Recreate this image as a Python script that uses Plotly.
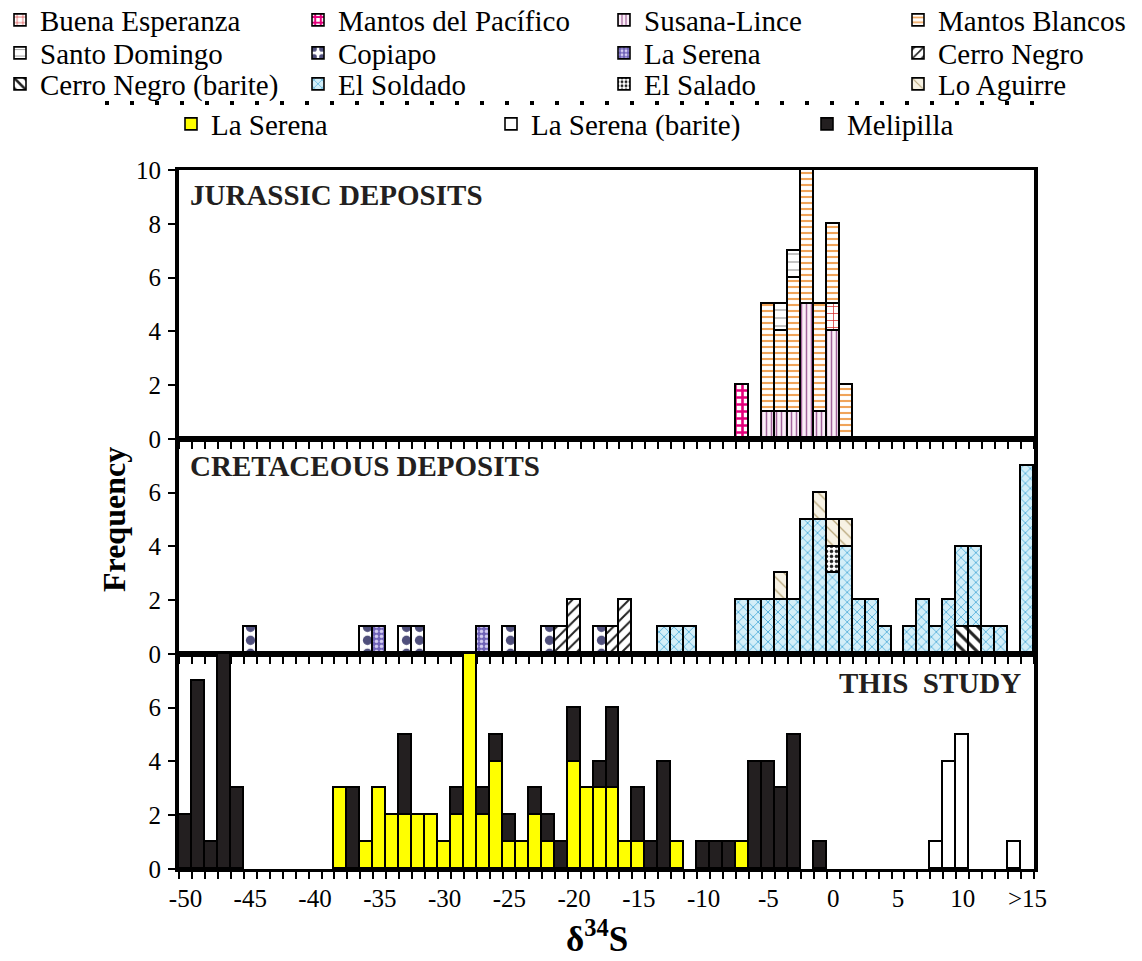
import plotly.graph_objects as go

# ---------------- data ----------------
bins = list(range(-50, 16))  # 1 per-mil classes; the last class is ">15"
tick_vals = [-50, -45, -40, -35, -30, -25, -20, -15, -10, -5, 0, 5, 10, 15]
tick_text = ["-50", "-45", "-40", "-35", "-30", "-25", "-20", "-15", "-10", "-5", "0", "5", "10", ">15"]

# Jurassic deposits
susana_lince_x = [-5, -4, -3, -2, -1, 0]
susana_lince_n = [1, 1, 1, 5, 1, 4]
buena_esperanza_x = [0]
buena_esperanza_n = [1]
mantos_blancos_x = [-5, -4, -3, -2, -1, 0, 1]
mantos_blancos_n = [4, 3, 5, 5, 4, 3, 2]
santo_domingo_x = [-4, -3]
santo_domingo_n = [1, 1]
mantos_pacifico_x = [-7]
mantos_pacifico_n = [2]

# Cretaceous deposits
cerro_negro_barite_x = [10, 11]
cerro_negro_barite_n = [1, 1]
el_soldado_x = [-13, -12, -11, -7, -6, -5, -4, -3, -2, -1, 0, 1, 2, 3, 4, 6, 7, 8, 9, 10, 11, 12, 13, 15]
el_soldado_n = [1, 1, 1, 2, 2, 2, 2, 2, 5, 5, 3, 4, 2, 2, 1, 1, 2, 1, 2, 3, 3, 1, 1, 7]
el_salado_x = [0]
el_salado_n = [1]
lo_aguirre_x = [-4, -1, 0, 1]
lo_aguirre_n = [1, 1, 1, 1]
copiapo_x = [-45, -36, -33, -32, -25, -22, -18]
copiapo_n = [1, 1, 1, 1, 1, 1, 1]
la_serena_cret_x = [-35, -27]
la_serena_cret_n = [1, 1]
cerro_negro_x = [-21, -20, -17, -16]
cerro_negro_n = [1, 2, 1, 2]

# This study
la_serena_x = [-38, -36, -35, -34, -33, -32, -31, -30, -29, -28, -27, -26, -25, -24,
               -23, -22, -20, -19, -18, -17, -16, -15, -12, -7]
la_serena_n = [3, 1, 3, 2, 2, 2, 2, 1, 2, 8, 2, 4, 1, 1, 2, 1, 4, 3, 3, 3, 1, 1, 1, 1]
melipilla_x = [-50, -49, -48, -47, -46, -37, -33, -29, -27, -26, -25, -23, -22, -21,
               -20, -18, -17, -15, -14, -13, -10, -9, -8, -6, -5, -4, -3, -1]
melipilla_n = [2, 7, 1, 8, 3, 3, 3, 1, 1, 1, 1, 1, 1, 1, 2, 1, 3, 2, 1, 4, 1, 1, 1, 4, 4, 3, 5, 1]
la_serena_barite_x = [8, 9, 10, 14]
la_serena_barite_n = [1, 4, 5, 1]

# ---------------- layout geometry ----------------
OFF = 8                       # default page margin around the figure
W, H = 1142 - 2 * OFF, 961 - 2 * OFF
# plot area in page pixels
PL, PR, PT, PB = 179, 1034, 170, 869
SERIF = "Liberation Serif"


def pxx(p):   # page px -> paper x
    return (p - PL) / (PR - PL)


def pxy(p):   # page px -> paper y
    return (PB - p) / (PB - PT)


# name, x, n, panel(1/2/3), style, legend text start / row centre (page px)
series = [
    # Jurassic (stack order bottom -> top)
    ("Susana-Lince", susana_lince_x, susana_lince_n, 1,
     dict(shape="|", fg="#a2649c", bg="#fbeef7", size=5, sol=0.3), (644, 20)),
    ("Buena Esperanza", buena_esperanza_x, buena_esperanza_n, 1,
     dict(shape="+", fg="#d42a2a", bg="#ffffff", size=7, sol=0.2), (40, 20)),
    ("Mantos Blancos", mantos_blancos_x, mantos_blancos_n, 1,
     dict(shape="-", fg="#f0a45a", bg="#ffffff", size=6, sol=0.35), (938, 20)),
    ("Santo Domingo", santo_domingo_x, santo_domingo_n, 1,
     dict(shape="-", fg="#9a9a9a", bg="#ffffff", size=8, sol=0.15), (40, 53)),
    ("Mantos del Pacífico", mantos_pacifico_x, mantos_pacifico_n, 1,
     dict(shape="+", fg="#e4007c", bg="#ffffff", size=7, sol=0.6), (338, 20)),
    # Cretaceous
    ("Cerro Negro (barite)", cerro_negro_barite_x, cerro_negro_barite_n, 2,
     dict(shape="\\", fg="#222222", bg="#ffffff", size=9, sol=0.35), (40, 84)),
    ("El Soldado", el_soldado_x, el_soldado_n, 2,
     dict(shape="x", fg="#3aa3d6", bg="#d3eef8", size=7, sol=0.2), (338, 84)),
    ("El Salado", el_salado_x, el_salado_n, 2,
     dict(shape=".", fg="#222222", bg="#ffffff", size=5, sol=0.4), (644, 84)),
    ("Lo Aguirre", lo_aguirre_x, lo_aguirre_n, 2,
     dict(shape="\\", fg="#b9a77c", bg="#f7f2e4", size=9, sol=0.15), (938, 84)),
    ("Copiapo", copiapo_x, copiapo_n, 2,
     dict(shape=".", fg="#4f4f7c", bg="#ffffff", size=13, sol=0.4), (338, 53)),
    ("La Serena", la_serena_cret_x, la_serena_cret_n, 2,
     dict(shape=".", fg="#d4cdf2", bg="#6f62b8", size=5, sol=0.4), (644, 53)),
    ("Cerro Negro", cerro_negro_x, cerro_negro_n, 2,
     dict(shape="/", fg="#222222", bg="#ffffff", size=8, sol=0.25), (938, 53)),
    # This study
    ("La Serena", la_serena_x, la_serena_n, 3,
     dict(shape="", fg="#ffff00", bg="#ffff00", size=8, sol=0.3), (211, 124)),
    ("Melipilla", melipilla_x, melipilla_n, 3,
     dict(shape="", fg="#231f20", bg="#231f20", size=8, sol=0.3), (847, 124)),
    ("La Serena (barite)", la_serena_barite_x, la_serena_barite_n, 3,
     dict(shape="", fg="#ffffff", bg="#ffffff", size=8, sol=0.3), (531, 124)),
]

fig = go.Figure()
legends = {}
for i, (name, xs, ns, panel, st, (tx, cy)) in enumerate(series):
    lid = "legend" if i == 0 else "legend%d" % (i + 1)
    suffix = "" if panel == 1 else str(panel)
    marker = dict(color=st["bg"], line=dict(color="black", width=1.6))
    if st["shape"]:
        marker["pattern"] = dict(shape=st["shape"], fgcolor=st["fg"], bgcolor=st["bg"],
                                 size=st["size"], solidity=st["sol"], fillmode="replace")
    fig.add_trace(go.Bar(
        x=xs, y=ns, name=name, width=1, marker=marker,
        xaxis="x" + suffix, yaxis="y" + suffix,
        legend=lid, showlegend=True, hoverinfo="x+y+name",
    ))
    # legend text starts 40 px after the legend's left edge
    lx = tx - 40 - OFF
    indent = 0
    if lx < 0:
        indent = max(lx, -15)
        lx = 0
    legends[lid] = dict(
        xref="container", yref="container",
        x=lx / W, y=1 - (cy - OFF) / H, xanchor="left", yanchor="middle",
        indentation=indent,
        bgcolor="rgba(0,0,0,0)", borderwidth=0,
        font=dict(family=SERIF, size=29, color="black"),
        itemclick=False, itemdoubleclick=False,
    )

minor_edges = [b - 0.5 for b in bins] + [bins[-1] + 0.5]


def xaxis_def(anchor, show_labels):
    return dict(
        range=[bins[0] - 0.5, bins[-1] + 0.5], anchor=anchor, domain=[0, 1],
        showline=True, linewidth=3, linecolor="black", mirror=True,
        showgrid=False, zeroline=False,
        tickmode="array", tickvals=tick_vals, ticktext=tick_text, ticks="",
        showticklabels=show_labels, ticklabelstandoff=5,
        tickfont=dict(family=SERIF, size=25, color="black"),
        minor=dict(tickmode="array", tickvals=minor_edges, ticks="outside",
                   ticklen=7, tickwidth=2, tickcolor="black", showgrid=False),
        fixedrange=True,
    )


def yaxis_def(anchor, dom, top, vals):
    return dict(
        domain=dom, range=[0, top], anchor=anchor,
        tickmode="array", tickvals=vals, ticktext=[str(v) for v in vals],
        showline=True, linewidth=4, linecolor="black", mirror=True,
        ticks="outside", ticklen=7, tickwidth=2, tickcolor="black",
        ticklabelstandoff=2,
        showgrid=False, zeroline=False,
        tickfont=dict(family=SERIF, size=25, color="black"),
        fixedrange=True,
    )


u = 26.0
fig.update_layout(
    width=W, height=H,
    margin=dict(l=PL - OFF, r=W - (PR - OFF), t=PT - OFF, b=H - (PB - OFF), autoexpand=False),
    paper_bgcolor="white", plot_bgcolor="white",
    barmode="stack", bargap=0,
    showlegend=True,
    xaxis=xaxis_def("y", False),
    xaxis2=xaxis_def("y2", False),
    xaxis3=xaxis_def("y3", True),
    yaxis=yaxis_def("x", [16 / u, 1], 10, [0, 2, 4, 6, 8, 10]),
    yaxis2=yaxis_def("x2", [8 / u, 16 / u], 8, [0, 2, 4, 6]),
    yaxis3=yaxis_def("x3", [0, 8 / u], 8, [0, 2, 4, 6]),
    **legends,
)

annot_font = dict(family=SERIF, size=29, color="#231f20")
fig.add_annotation(text="<b>JURASSIC DEPOSITS</b>", xref="paper", yref="paper",
                   x=pxx(188), y=pxy(195), xanchor="left", yanchor="middle",
                   showarrow=False, font=annot_font)
fig.add_annotation(text="<b>CRETACEOUS DEPOSITS</b>", xref="paper", yref="paper",
                   x=pxx(188), y=pxy(466), xanchor="left", yanchor="middle",
                   showarrow=False, font=annot_font)
fig.add_annotation(text="<b>THIS\u00a0\u00a0STUDY</b>", xref="paper", yref="paper",
                   x=pxx(1023), y=pxy(683), xanchor="right", yanchor="middle",
                   showarrow=False, font=annot_font)
fig.add_annotation(text="<b>Frequency</b>", xref="paper", yref="paper",
                   x=pxx(114), y=pxy(520), xanchor="center", yanchor="middle",
                   textangle=-90, showarrow=False,
                   font=dict(family=SERIF, size=32, color="black"))
fig.add_annotation(text="<b>δ<sup>34</sup>S</b>", xref="paper", yref="paper",
                   x=pxx(597), y=pxy(936), xanchor="center", yanchor="middle",
                   showarrow=False, font=dict(family=SERIF, size=35, color="black"))

# dotted separator inside the legend
fig.add_shape(type="line", xref="paper", yref="paper",
              x0=pxx(105), x1=pxx(1040), y0=pxy(103), y1=pxy(103),
              line=dict(color="black", width=4, dash="4px,21px"))

fig.write_html("out.html", config={"displayModeBar": False})
